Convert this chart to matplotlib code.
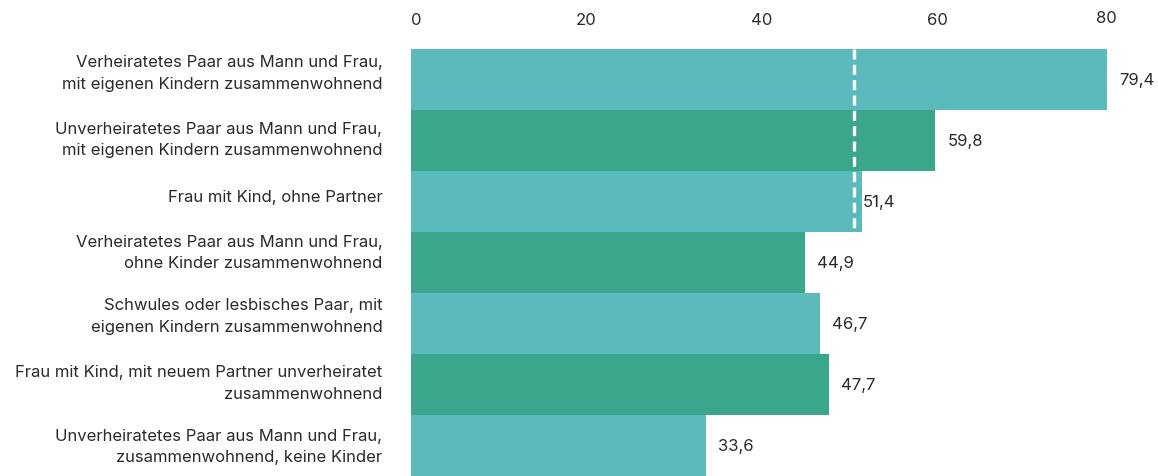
import matplotlib
matplotlib.use("Agg")
import matplotlib.pyplot as plt
from matplotlib.transforms import offset_copy, ScaledTranslation

# Anteil (%) je Familienform
categories = [
    "Verheiratetes Paar aus Mann und Frau,\nmit eigenen Kindern zusammenwohnend",
    "Unverheiratetes Paar aus Mann und Frau,\nmit eigenen Kindern zusammenwohnend",
    "Frau mit Kind, ohne Partner",
    "Verheiratetes Paar aus Mann und Frau,\nohne Kinder zusammenwohnend",
    "Schwules oder lesbisches Paar, mit\neigenen Kindern zusammenwohnend",
    "Frau mit Kind, mit neuem Partner unverheiratet\nzusammenwohnend",
    "Unverheiratetes Paar aus Mann und Frau,\nzusammenwohnend, keine Kinder",
]
values = [79.4, 59.8, 51.4, 44.9, 46.7, 47.7, 33.6]
value_labels = ["79,4", "59,8", "51,4", "44,9", "46,7", "47,7", "33,6"]
mean_line = 50.5
x_ticks = [0, 20, 40, 60, 80]

# kleine vertikale Verschiebungen der Kategorietexte (Pixel, nach oben positiv)
label_nudge = [7, 1.5, 5.5, 10.5, 8, 2, -0.5]

LIGHT = "#5bbbbc"
DARK = "#3aa68b"
TEXT = "#2b2b2b"
FS = 12

plt.rcParams["font.family"] = ["Inter", "DejaVu Sans"]

fig = plt.figure(figsize=(11.58, 4.77), dpi=100)
ax = fig.add_axes([411.3 / 1158, 0, (1112.2 - 411.3) / 1158, 1 - 50 / 477])

y = list(range(len(values)))
colors = [LIGHT if i % 2 == 0 else DARK for i in y]
ax.barh(y, values, height=1.0, color=colors, edgecolor="none")

ax.set_xlim(0, 80)
ax.set_ylim(len(values) - 0.5, -0.5)

# Durchschnittslinie über die ersten drei Balken
ax.plot([mean_line, mean_line], [-0.5, 2.5], color="white", lw=2.4,
        dashes=(3, 1.6), solid_capstyle="butt")

# Wertebeschriftungen
for i, (v, lab) in enumerate(zip(values, value_labels)):
    pad = 1 if lab == "51,4" else 12
    tr = offset_copy(ax.transData, fig=fig, x=pad, y=0, units="dots")
    ax.text(v, i, lab, transform=tr, ha="left", va="center",
            fontsize=FS, color=TEXT, clip_on=False)

# Kategorien links
for i, cat in enumerate(categories):
    tr = offset_copy(ax.transData, fig=fig, x=-29, y=label_nudge[i], units="dots")
    ax.text(0, i, cat, transform=tr, ha="right", va="center",
            fontsize=FS, color=TEXT, linespacing=1.55)

ax.set_yticks([])
ax.set_xticks(x_ticks)
ax.xaxis.tick_top()
ax.set_xticklabels([str(t) for t in x_ticks], fontsize=FS, color=TEXT)
ax.tick_params(axis="x", length=0, pad=16)
ticklabels = ax.get_xticklabels()
ticklabels[0].set_ha("left")
ticklabels[-1].set_transform(ticklabels[-1].get_transform()
                             + ScaledTranslation(-0.06, 0.02, fig.dpi_scale_trans))
for s in ax.spines.values():
    s.set_visible(False)

fig.savefig("out.png", dpi=100)
